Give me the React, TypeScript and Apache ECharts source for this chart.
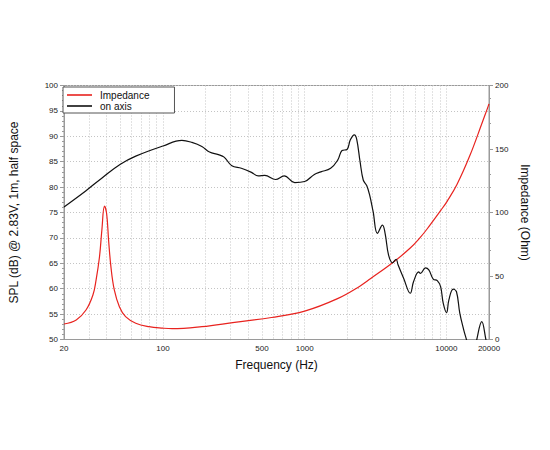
import React, { useEffect, useRef } from "react";
import * as echarts from "echarts";

// Frequency grid (Hz) and labelled frequencies
const gridFreqs = [20, 30, 40, 50, 60, 70, 80, 90, 100, 200, 300, 400, 500, 600, 700, 800, 900, 1000, 2000, 3000, 4000, 5000, 6000, 7000, 8000, 9000, 10000, 20000];
const labelFreqs = [20, 100, 500, 1000, 10000, 20000];

// On-axis SPL (dB)
const splFreq = [20, 28.6, 37.5, 50, 64.2, 100, 136, 160, 188, 213, 246, 270, 306, 357, 421, 470, 523, 623, 716, 851, 999, 1170, 1300, 1525, 1710, 1835, 1990, 2100, 2240, 2330, 2460, 2590, 2740, 2870, 3040, 3260, 3540, 3700, 3910, 4170, 4420, 4560, 5000, 5560, 5870, 6380, 6560, 7120, 7520, 8080, 8630, 9110, 9510, 10040, 10420, 11180, 11790, 12440, 13260, 13860, 14500, 16000, 16400, 17780, 19010, 20000];
const splDb = [76.1, 79.3, 81.9, 84.5, 86.1, 88.1, 89.2, 88.8, 88.0, 86.9, 86.4, 85.9, 84.2, 83.7, 82.9, 82.2, 82.3, 81.5, 82.2, 80.9, 81.1, 82.5, 83.0, 83.7, 85.3, 87.2, 87.4, 89.3, 90.3, 89.4, 85.0, 81.4, 80.3, 78.5, 75.2, 70.9, 72.5, 70.8, 66.6, 65.1, 65.8, 64.7, 62.0, 59.1, 61.4, 63.3, 63.0, 64.1, 63.7, 61.9, 61.6, 60.4, 57.1, 55.3, 57.8, 59.9, 59.4, 55.2, 51.9, 50.0, 48.0, 48.0, 50.0, 53.5, 50.0, 47.0];

// Impedance (Ohm)
const impFreq = [20, 24.4, 28.6, 32, 33.7, 35.6, 37, 38.6, 40, 41.3, 42.9, 45.3, 49.2, 54.4, 64.2, 79.6, 100, 116, 188, 320, 583, 1000, 1690, 2450, 2925, 4240, 5560, 6500, 7310, 9110, 10150, 11880, 14680, 18000, 19500, 20000];
const impOhm = [12.2, 15.4, 23.2, 35, 47, 65, 86, 105, 99, 78, 57, 39, 25.8, 18, 12.8, 10.1, 8.9, 8.5, 10.1, 13.5, 17.3, 22.4, 32, 42, 48, 61, 72, 80, 87, 101.5, 109, 122, 145, 171.5, 182, 185.5];

const FONT = "'Liberation Sans', Arial, Helvetica, sans-serif";
const lg = (f: number) => Math.log10(f);

export default function App() {
  const ref = useRef<HTMLDivElement>(null);
  useEffect(() => {
    if (!ref.current) return;
    const chart = echarts.init(ref.current, undefined, { renderer: "svg" });
    const axisLineColor = "#9a9a9a";
    const gridColor = "#c4c4c4";
    chart.setOption({
      animation: false,
      backgroundColor: "#ffffff",
      textStyle: { fontFamily: FONT },
      grid: { left: 61, right: 61, top: 85.5, bottom: 110.5, show: true, borderColor: axisLineColor, borderWidth: 1, backgroundColor: "transparent" },
      legend: {
        orient: "vertical",
        left: 63,
        top: 87,
        itemWidth: 25,
        itemHeight: 1.6,
        itemGap: 1,
        padding: [3, 25, 2, 4],
        borderColor: "#555",
        borderWidth: 1,
        backgroundColor: "#fff",
        textStyle: { fontFamily: FONT, fontSize: 10, color: "#111", padding: [0, 0, 0, 3] },
        data: [
          { name: "Impedance", icon: "rect" },
          { name: "on axis", icon: "rect" },
        ],
      },
      xAxis: {
        type: "value",
        min: lg(20),
        max: lg(20000),
        name: "Frequency (Hz)",
        nameLocation: "middle",
        nameGap: 19,
        nameTextStyle: { fontFamily: FONT, fontSize: 12, color: "#111" },
        axisLine: { show: true, lineStyle: { color: axisLineColor, width: 1 } },
        axisTick: { show: false, customValues: gridFreqs.map(lg) },
        axisLabel: {
          customValues: labelFreqs.map(lg),
          formatter: (v: number) => String(Math.round(Math.pow(10, v))),
          fontFamily: FONT,
          fontSize: 8,
          color: "#222",
          margin: 5,
        },
        splitLine: { show: true, lineStyle: { color: gridColor, type: [1, 2], width: 1 } },
      },
      yAxis: [
        {
          type: "value",
          min: 50,
          max: 100,
          interval: 5,
          position: "left",
          name: "SPL (dB) @ 2.83V, 1m, half space",
          nameLocation: "middle",
          nameRotate: 90,
          nameGap: 44,
          nameTextStyle: { fontFamily: FONT, fontSize: 12, color: "#111" },
          axisLine: { show: true, lineStyle: { color: axisLineColor } },
          axisTick: { show: true, length: 4, lineStyle: { color: axisLineColor } },
          minorTick: { show: true, splitNumber: 5, length: 2, lineStyle: { color: axisLineColor } },
          axisLabel: { fontFamily: FONT, fontSize: 8, color: "#222", margin: 6 },
          splitLine: { show: true, lineStyle: { color: gridColor, type: [1, 2], width: 1 } },
        },
        {
          type: "value",
          min: 0,
          max: 200,
          interval: 50,
          position: "right",
          name: "Impedance (Ohm)",
          nameLocation: "middle",
          nameRotate: -90,
          nameGap: 29,
          nameTextStyle: { fontFamily: FONT, fontSize: 12, color: "#111" },
          axisLine: { show: true, lineStyle: { color: axisLineColor } },
          axisTick: { show: true, length: 4, lineStyle: { color: axisLineColor } },
          minorTick: { show: true, splitNumber: 5, length: 2, lineStyle: { color: axisLineColor } },
          axisLabel: { fontFamily: FONT, fontSize: 8, color: "#222", margin: 6 },
          splitLine: { show: false },
        },
      ],
      series: [
        {
          name: "Impedance",
          type: "line",
          yAxisIndex: 1,
          showSymbol: false,
          symbol: "none",
          smooth: 0.4,
          color: "#e8231f",
          lineStyle: { color: "#e8231f", width: 1.2 },
          data: impFreq.map((f, i) => [lg(f), impOhm[i]]),
          z: 3,
        },
        {
          name: "on axis",
          type: "line",
          yAxisIndex: 0,
          showSymbol: false,
          symbol: "none",
          smooth: 0.4,
          color: "#111111",
          lineStyle: { color: "#111111", width: 1.2 },
          data: splFreq.map((f, i) => [lg(f), splDb[i]]),
          z: 4,
        },
      ],
    });
    return () => chart.dispose();
  }, []);
  return <div ref={ref} style={{ position: "fixed", left: 0, top: 0, width: 550, height: 450 }} />;
}
